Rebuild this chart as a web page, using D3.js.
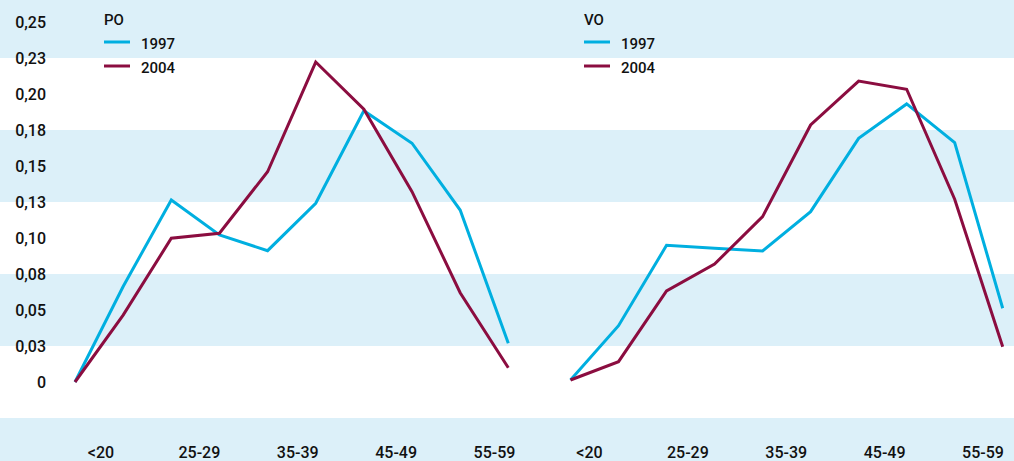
<!DOCTYPE html>
<html>
<head>
<meta charset="utf-8">
<script src="https://cdn.jsdelivr.net/npm/d3@7"></script>
<style>
  body { margin: 0; background: #fff; }
  svg text { font-family: Roboto, "Noto Sans", sans-serif; font-weight: 500; fill: #111; }
</style>
</head>
<body>
<div id="main"></div>
<script>
const ageGroups = ["<20", "20-24", "25-29", "30-34", "35-39", "40-44", "45-49", "50-54", "55-59", "60-64"];
const xLabels = ["<20", "25-29", "35-39", "45-49", "55-59"];
const seriesNames = ["1997", "2004"];

const po1997 = [0, 0.0663, 0.1264, 0.1021, 0.0912, 0.1241, 0.1884, 0.1658, 0.1194, 0.0269];
const po2004 = [0, 0.0465, 0.0998, 0.1033, 0.1460, 0.2222, 0.1894, 0.1322, 0.0620, 0.0099];
const vo1997 = [0.0014, 0.0391, 0.0949, 0.0928, 0.0910, 0.1183, 0.1692, 0.1931, 0.1662, 0.0512];
const vo2004 = [0.0014, 0.0141, 0.0632, 0.0819, 0.1148, 0.1785, 0.2090, 0.2033, 0.1269, 0.0245];

const yTicks = [0, 0.025, 0.05, 0.075, 0.1, 0.125, 0.15, 0.175, 0.2, 0.225, 0.25];
const yTickLabels = ["0", "0,03", "0,05", "0,08", "0,10", "0,13", "0,15", "0,18", "0,20", "0,23", "0,25"];
const bandRanges = [[-0.1, -0.025], [0.025, 0.075], [0.125, 0.175], [0.225, 0.3]];

const width = 1014, height = 461;
const colors = { "1997": "#00afe0", "2004": "#8b0d40" };

const svg = d3.select("#main").append("svg")
  .attr("width", width)
  .attr("height", height);

const yScale = d3.scaleLinear().domain([0, 0.25]).range([382, 22]);

// background bands
svg.append("g").selectAll("rect")
  .data(bandRanges)
  .enter()
  .append("rect")
  .attr("x", 0)
  .attr("width", width)
  .attr("y", d => Math.max(0, yScale(d[1])))
  .attr("height", d => Math.min(height, yScale(d[0])) - Math.max(0, yScale(d[1])))
  .attr("fill", "#dcf0f9");

// y axis
const yAxis = d3.axisLeft(yScale)
  .tickValues(yTicks)
  .tickSize(0)
  .tickPadding(0)
  .tickFormat((d, i) => yTickLabels[i]);

const yg = svg.append("g")
  .attr("transform", "translate(46,0)")
  .call(yAxis);
yg.select(".domain").remove();
yg.selectAll("text")
  .style("font-family", "Roboto, sans-serif")
  .style("font-weight", 500)
  .style("font-size", "16px")
  .attr("fill", "#111");

const panels = [
  { name: "PO", s1997: po1997, s2004: po2004, xRange: [75, 508.3], labelRange: [100.5, 494], legendX: 104 },
  { name: "VO", s1997: vo1997, s2004: vo2004, xRange: [570.5, 1002.7], labelRange: [589, 982.5], legendX: 584 }
];

panels.forEach(p => {
  const xScale = d3.scalePoint().domain(ageGroups).range(p.xRange);
  const labelScale = d3.scalePoint().domain(xLabels).range(p.labelRange);

  const xAxis = d3.axisBottom(labelScale).tickSize(0).tickPadding(0);
  const xg = svg.append("g")
    .attr("transform", "translate(0,452)")
    .call(xAxis);
  xg.select(".domain").remove();
  xg.selectAll("text")
    .attr("y", 0)
    .attr("dy", "0.35em")
    .style("font-family", "Roboto, sans-serif")
    .style("font-weight", 500)
    .style("font-size", "16px")
    .attr("fill", "#111");

  const line = d3.line()
    .x((d, i) => xScale(ageGroups[i]))
    .y(d => yScale(d));

  [["1997", p.s1997], ["2004", p.s2004]].forEach(([name, values]) => {
    svg.append("path")
      .datum(values)
      .attr("d", line)
      .attr("fill", "none")
      .attr("stroke", colors[name])
      .attr("stroke-width", 3)
      .attr("stroke-linejoin", "miter");
  });

  // legend
  const lg = svg.append("g").attr("transform", "translate(" + p.legendX + ",0)");
  lg.append("text")
    .attr("x", 0)
    .attr("y", 20)
    .attr("dy", "0.35em")
    .style("font-size", "15px")
    .text(p.name);

  seriesNames.forEach((name, i) => {
    const yy = 42 + i * 24;
    lg.append("line")
      .attr("x1", 0).attr("x2", 26)
      .attr("y1", yy).attr("y2", yy)
      .attr("stroke", colors[name])
      .attr("stroke-width", 3);
    lg.append("text")
      .attr("x", 37)
      .attr("y", yy + 1.5)
      .attr("dy", "0.35em")
      .style("font-size", "15px")
      .text(name);
  });
});
</script>
</body>
</html>
